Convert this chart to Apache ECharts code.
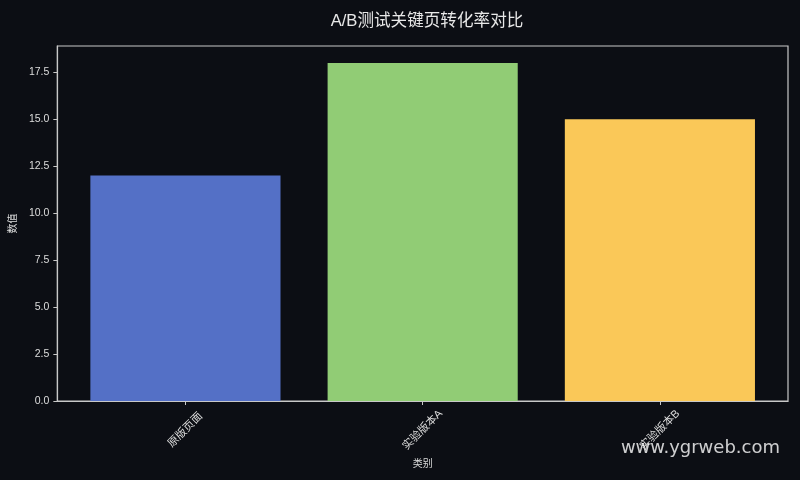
<!DOCTYPE html>
<html>
<head>
<meta charset="utf-8">
<script src="https://cdn.jsdelivr.net/npm/echarts@6/dist/echarts.min.js"></script>
<style>
  html,body{margin:0;padding:0;background:#0c0e14;}
  #chart{width:800px;height:480px;}
</style>
</head>
<body>
<div id="chart"></div>
<script>
var categories = ['原版页面', '实验版本A', '实验版本B']
var values = [12, 18, 15]
var colors = ['#5470c6', '#91cc75', '#fac858']
var yTicks = [0, 2.5, 5, 7.5, 10, 12.5, 15, 17.5]

var FONT = "'Liberation Sans', 'Noto Sans CJK SC', sans-serif"
var gridLeft = 56, gridRight = 12, gridTop = 46, gridBottom = 79
var xMin = -0.54, xMax = 2.54
var plotW = 800 - gridLeft - gridRight
var barW = plotW / (xMax - xMin) * 0.8

var mychart = echarts.init(document.getElementById('chart'))
mychart.setOption({
    backgroundColor: '#0c0e14',
    animation: false,
    title: {
        text: 'A/B测试关键页转化率对比',
        left: gridLeft + plotW / 2,
        textAlign: 'center',
        top: 8,
        textStyle: {color: '#e8e8e8', fontSize: 16.6, fontWeight: 'normal', fontFamily: FONT}
    },
    grid: {
        left: gridLeft, right: gridRight, top: gridTop, bottom: gridBottom,
        show: true, borderColor: '#c8c8c8', borderWidth: 1.2, backgroundColor: 'transparent'
    },
    xAxis: {
        type: 'value',
        min: xMin, max: xMax,
        name: '类别',
        nameLocation: 'middle',
        nameGap: 54,
        nameTextStyle: {color: '#dddddd', fontSize: 10, fontFamily: FONT},
        axisLine: {show: true, onZero: false, lineStyle: {color: '#c8c8c8', width: 1.2}},
        axisTick: {show: true, length: 4, customValues: [0, 1, 2], lineStyle: {color: '#c8c8c8'}},
        splitLine: {show: false},
        axisLabel: {
            customValues: [0, 1, 2],
            rotate: 45,
            align: 'center',
            verticalAlign: 'middle',
            margin: 29,
            color: '#dddddd', fontSize: 11, fontFamily: FONT,
            formatter: (v) => categories[Math.round(v)]
        }
    },
    yAxis: {
        type: 'value',
        min: 0, max: 18.9,
        name: '数值',
        nameLocation: 'middle',
        nameGap: 31,
        nameTextStyle: {color: '#dddddd', fontSize: 10, fontFamily: FONT},
        axisLine: {show: true, onZero: false, lineStyle: {color: '#c8c8c8', width: 1.2}},
        axisTick: {show: true, length: 4, customValues: yTicks, lineStyle: {color: '#c8c8c8'}},
        splitLine: {show: false},
        axisLabel: {
            customValues: yTicks,
            margin: 8,
            color: '#dddddd', fontSize: 10.5, fontFamily: FONT,
            formatter: (v) => v.toFixed(1)
        }
    },
    series: [{
        type: 'bar',
        barWidth: barW,
        data: values.map((v, i) => ({value: [i, v], itemStyle: {color: colors[i]}}))
    }],
    graphic: [{
        type: 'text',
        right: 20,
        top: 439,
        z: 100,
        style: {text: 'www.ygrweb.com', fill: 'rgba(255,255,255,0.8)', font: "18px 'DejaVu Sans', sans-serif"}
    }]
})
</script>
</body>
</html>
